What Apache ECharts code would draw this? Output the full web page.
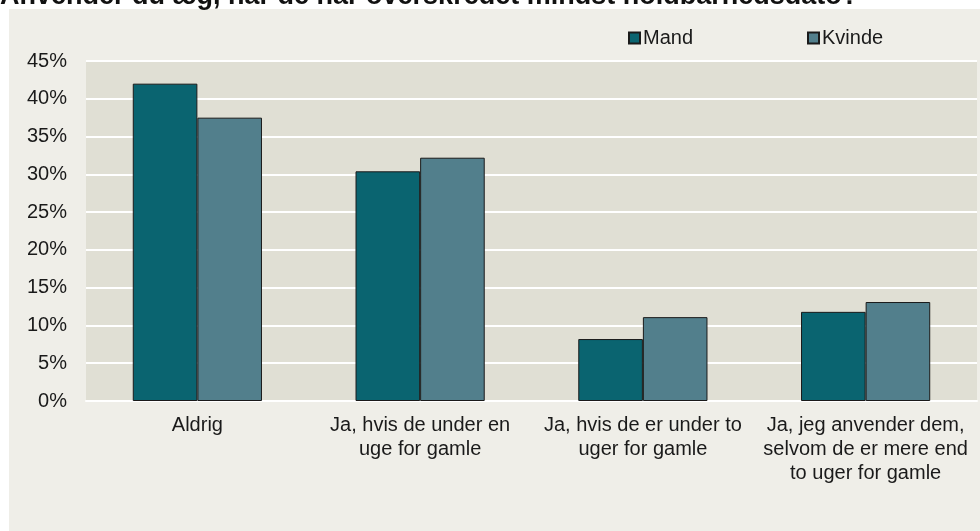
<!DOCTYPE html>
<html>
<head>
<meta charset="utf-8">
<script src="https://cdn.jsdelivr.net/npm/echarts@6/dist/echarts.min.js"></script>
<style>
  html, body { margin: 0; padding: 0; background: #ffffff; }
  #container { width: 980px; height: 531px; }
</style>
</head>
<body>
<div id="container"></div>
<script>
var kategorier = ['Aldrig', 'Ja, hvis de under en\nuge for gamle', 'Ja, hvis de er under to\nuger for gamle', 'Ja, jeg anvender dem,\nselvom de er mere end\nto uger for gamle'];
var mand = [42.0, 30.4, 8.2, 11.8];
var kvinde = [37.5, 32.2, 11.1, 13.1];
var yTicks = [0, 45, 5];

var tekstFarve = '#1a1a1a';
var font = 'Liberation Sans, Arial, sans-serif';

var chart = echarts.init(document.getElementById('container'));
var option = {
    backgroundColor: '#ffffff',
    animation: false,
    title: {
        text: 'Anvender du æg, når de har overskredet mindst holdbarhedsdato?',
        left: 0,
        top: -17,
        padding: 0,
        textStyle: {
            fontFamily: font,
            fontWeight: 'bold',
            fontSize: 27,
            color: '#111111'
        }
    },
    graphic: [{
        type: 'rect',
        z: -10,
        shape: { x: 9, y: 9, width: 971, height: 522 },
        style: { fill: '#efeee8' }
    }],
    legend: [{
        data: ['Mand'],
        left: 628,
        top: 28,
        padding: 0,
        itemWidth: 11,
        itemHeight: 11,
        itemGap: 0,
        icon: 'rect',
        textStyle: { fontFamily: font, fontSize: 20, color: tekstFarve, padding: [0, 0, 0, -2] }
    }, {
        data: ['Kvinde'],
        left: 807,
        top: 28,
        padding: 0,
        itemWidth: 11,
        itemHeight: 11,
        itemGap: 0,
        icon: 'rect',
        textStyle: { fontFamily: font, fontSize: 20, color: tekstFarve, padding: [0, 0, 0, -2] }
    }],
    grid: {
        left: 86,
        right: 3,
        top: 61,
        bottom: 130,
        show: true,
        backgroundColor: '#e0dfd4',
        borderWidth: 0
    },
    xAxis: {
        type: 'category',
        data: kategorier,
        axisLine: { show: true, lineStyle: { color: '#ffffff', width: 2 } },
        axisTick: { show: false },
        axisLabel: {
            interval: 0,
            margin: 12,
            fontFamily: font,
            fontSize: 20,
            lineHeight: 24,
            color: tekstFarve
        }
    },
    yAxis: {
        type: 'value',
        min: yTicks[0],
        max: yTicks[1],
        interval: yTicks[2],
        axisLine: { show: false },
        axisTick: { show: false },
        splitLine: { lineStyle: { color: '#ffffff', width: 2 } },
        axisLabel: {
            formatter: '{value}%',
            margin: 19,
            fontFamily: font,
            fontSize: 20,
            color: tekstFarve
        }
    },
    series: [{
        name: 'Mand',
        type: 'bar',
        data: mand,
        barGap: '0%',
        barCategoryGap: '42%',
        itemStyle: { color: '#0a6470', borderColor: '#1a1a1a', borderWidth: 1 }
    }, {
        name: 'Kvinde',
        type: 'bar',
        data: kvinde,
        itemStyle: { color: '#527f8c', borderColor: '#1a1a1a', borderWidth: 1 }
    }]
};
chart.setOption(option);
</script>
</body>
</html>
